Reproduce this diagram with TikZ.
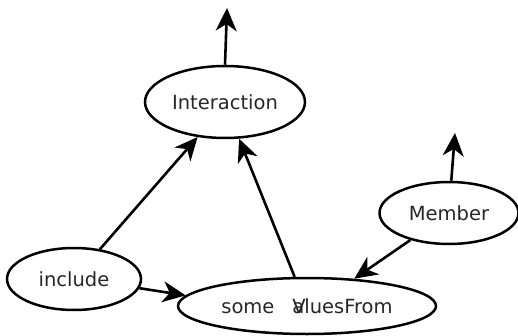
\documentclass[tikz,border=0pt]{standalone}
\usepackage{fontspec}
\setmainfont{DejaVu Sans}
\usetikzlibrary{shapes.geometric,arrows.meta}
\begin{document}
\begin{tikzpicture}[x=1pt,y=-1pt,
  concept/.style={ellipse,draw,line width=2.5pt,inner sep=0pt,
    font=\fontsize{19.5}{23}\selectfont,text=black!85},
  link/.style={line width=2.6pt,-{Stealth[length=23pt,width=21pt,inset=7pt]}}]
\useasboundingbox (0,0) rectangle (518,336);
\node[concept,minimum width=160,minimum height=72] (inter) at (225,102) {Interaction};
\node[concept,minimum width=139,minimum height=62] (member) at (449,213) {Member};
\node[concept,minimum width=134,minimum height=62] (incl) at (74,279) {include};
\node[concept,minimum width=258,minimum height=56] (svf) at (307,306)
  {some\hspace{18pt}\rlap{V}aluesFrom};
\coordinate (interUp) at (227,8);
\coordinate (memberUp) at (455,133);
\draw[link] (inter.north) -- (interUp);
\draw[link] (member.86) -- (memberUp);
\draw[link] (incl.49) -- (inter.232);
\draw[link] (svf.113) -- (inter.291);
\draw[link] (member.215) -- (svf.30);
\draw[link] (incl.-8) -- (svf.175);
\end{tikzpicture}
\end{document}
